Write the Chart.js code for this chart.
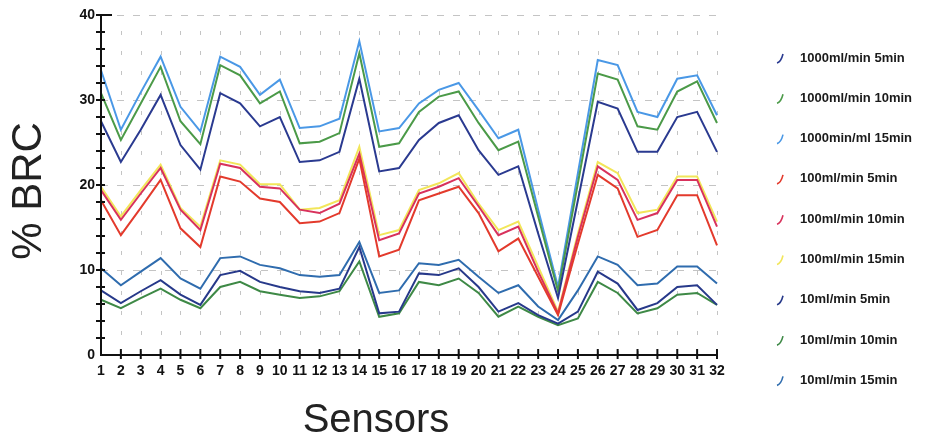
<!DOCTYPE html>
<html>
<head>
<meta charset="utf-8">
<script src="https://cdn.jsdelivr.net/npm/chart.js@4/dist/chart.umd.min.js"></script>
<style>
  html, body { margin: 0; padding: 0; background: #fff; }
  #wrap { width: 931px; height: 446px; position: relative; }
</style>
</head>
<body>
<div id="wrap"><canvas id="brcChart" width="931" height="446"></canvas></div>
<script>
// sensors along the x axis
const sensors = ['1','2','3','4','5','6','7','8','9','10','11','12','13','14','15','16',
                 '17','18','19','20','21','22','23','24','25','26','27','28','29','30','31','32'];

const seriesNames = [
  '1000ml/min 5min', '1000ml/min 10min', '1000min/ml 15min',
  '100ml/min 5min', '100ml/min 10min', '100ml/min 15min',
  '10ml/min 5min', '10ml/min 10min', '10ml/min 15min'
];

const seriesColors = ['#2a3a90', '#4b9a48', '#4a98e6', '#e33a2c', '#d8325c', '#f2e65a', '#27398a', '#3e8946', '#2f6cae'];

// % BRC per sensor
const flow1000_5  = [27.5, 22.7, 26.5, 30.6, 24.7, 21.8, 30.8, 29.6, 26.9, 28.0, 22.7, 22.9, 23.9, 32.5, 21.6, 22.0,
                     25.3, 27.3, 28.2, 24.1, 21.2, 22.2, 14.3, 6.7, 18.2, 29.8, 29.0, 23.9, 23.9, 28.0, 28.6, 23.9];
const flow1000_10 = [30.8, 25.3, 29.6, 33.9, 27.5, 24.8, 34.1, 32.9, 29.6, 31.0, 24.9, 25.1, 26.1, 35.5, 24.5, 24.9,
                     28.6, 30.4, 31.0, 27.3, 24.1, 25.1, 16.3, 7.5, 20.2, 33.1, 32.4, 26.9, 26.5, 31.0, 32.2, 27.3];
const flow1000_15 = [33.5, 26.5, 30.9, 35.1, 29.2, 26.3, 35.1, 33.9, 30.6, 32.4, 26.7, 26.9, 27.8, 36.9, 26.3, 26.7,
                     29.6, 31.2, 32.0, 28.8, 25.5, 26.5, 17.1, 8.0, 21.4, 34.7, 34.1, 28.6, 28.0, 32.5, 32.9, 28.2];
const flow100_5   = [18.2, 14.1, 17.3, 20.6, 14.9, 12.7, 21.0, 20.4, 18.4, 18.0, 15.5, 15.7, 16.7, 23.1, 11.6, 12.4,
                     18.2, 19.0, 19.8, 16.7, 12.2, 13.7, 9.2, 4.7, 13.1, 21.2, 19.6, 13.9, 14.7, 18.8, 18.8, 12.9];
const flow100_10  = [19.4, 15.9, 19.0, 22.0, 17.1, 14.7, 22.5, 22.0, 19.8, 19.6, 17.1, 16.7, 17.8, 23.7, 13.5, 14.3,
                     19.0, 19.8, 20.8, 17.5, 14.1, 15.1, 9.8, 4.9, 13.9, 22.2, 20.6, 15.9, 16.7, 20.6, 20.6, 15.1];
const flow100_15  = [19.8, 16.3, 19.4, 22.4, 17.3, 15.1, 22.9, 22.4, 20.1, 20.1, 17.1, 17.3, 18.2, 24.5, 14.1, 14.7,
                     19.4, 20.2, 21.4, 17.8, 14.7, 15.7, 10.4, 5.1, 14.3, 22.7, 21.4, 16.7, 17.1, 21.0, 21.0, 15.7];
const flow10_5    = [7.6, 6.1, 7.5, 8.8, 7.1, 5.9, 9.4, 9.9, 8.6, 8.0, 7.5, 7.3, 7.8, 12.7, 4.9, 5.1,
                     9.6, 9.4, 10.2, 8.0, 5.1, 6.1, 4.7, 3.7, 5.1, 9.8, 8.4, 5.3, 6.1, 8.0, 8.2, 5.9];
const flow10_10   = [6.5, 5.5, 6.7, 7.8, 6.5, 5.5, 8.0, 8.6, 7.5, 7.1, 6.7, 6.9, 7.5, 11.0, 4.5, 4.9,
                     8.6, 8.2, 9.0, 7.3, 4.5, 5.7, 4.5, 3.5, 4.3, 8.6, 7.3, 4.9, 5.5, 7.1, 7.3, 5.9];
const flow10_15   = [10.2, 8.2, 9.8, 11.4, 9.0, 7.8, 11.4, 11.6, 10.6, 10.2, 9.4, 9.2, 9.4, 13.3, 7.3, 7.6,
                     10.8, 10.6, 11.2, 9.2, 7.3, 8.2, 5.7, 4.1, 7.6, 11.6, 10.6, 8.2, 8.4, 10.4, 10.4, 8.4];

const seriesData = [flow1000_5, flow1000_10, flow1000_15, flow100_5, flow100_10, flow100_15, flow10_5, flow10_10, flow10_15];

const yLabelStep = 10;
const yMinorStep = 2;

// grid, crossed tick marks, axis titles and the side legend
const decor = {
  id: 'decor',
  beforeDatasetsDraw(chart) {
    const { ctx, chartArea: a, scales: { x, y } } = chart;
    ctx.save();
    ctx.strokeStyle = '#c4c4c4';
    ctx.lineWidth = 1;
    ctx.setLineDash([4, 16]);
    sensors.forEach((s, i) => {
      const px = Math.round(x.getPixelForValue(i)) + 0.5;
      ctx.beginPath(); ctx.moveTo(px, a.bottom); ctx.lineTo(px, a.top); ctx.stroke();
    });
    ctx.setLineDash([7, 9]);
    for (let v = yLabelStep; v <= y.max; v += yLabelStep) {
      const py = Math.round(y.getPixelForValue(v)) + 0.5;
      ctx.beginPath(); ctx.moveTo(a.left, py); ctx.lineTo(a.right, py); ctx.stroke();
    }
    ctx.restore();
  },
  afterDatasetsDraw(chart) {
    const { ctx, chartArea: a, scales: { x, y } } = chart;
    const x0 = a.left, y0 = a.bottom;
    ctx.save();
    ctx.strokeStyle = '#111';
    ctx.lineWidth = 2;
    ctx.beginPath();
    ctx.moveTo(x0, a.top); ctx.lineTo(x0, y0); ctx.lineTo(x.getPixelForValue(sensors.length - 1), y0);
    ctx.stroke();
    // y ticks cross the axis
    for (let v = yMinorStep; v <= y.max; v += yMinorStep) {
      const py = y.getPixelForValue(v);
      const w = v === y.max ? 11 : 4;
      ctx.beginPath(); ctx.moveTo(x0 - 5, py); ctx.lineTo(x0 + w, py); ctx.stroke();
    }
    // x ticks cross the axis
    sensors.forEach((s, i) => {
      if (i === 0) return;
      const px = x.getPixelForValue(i);
      ctx.beginPath(); ctx.moveTo(px, y0 - 6); ctx.lineTo(px, y0 + 4); ctx.stroke();
    });

    // axis titles
    ctx.fillStyle = '#222';
    ctx.textAlign = 'center';
    ctx.textBaseline = 'middle';
    ctx.font = '42px "Liberation Sans", Arial, sans-serif';
    ctx.save();
    ctx.translate(29, 191);
    ctx.rotate(-Math.PI / 2);
    ctx.fillText('% BRC', 0, 0);
    ctx.restore();
    ctx.font = '40px "Liberation Sans", Arial, sans-serif';
    ctx.fillText('Sensors', 376, 421);

    // legend
    ctx.textAlign = 'left';
    ctx.font = 'bold 13px "Liberation Sans", Arial, sans-serif';
    chart.data.datasets.forEach((ds, i) => {
      const ly = 58 + i * 40.3;
      ctx.strokeStyle = ds.borderColor;
      ctx.lineWidth = 1.6;
      ctx.beginPath();
      ctx.moveTo(777, ly + 5);
      ctx.quadraticCurveTo(781, ly + 4, 783, ly - 4);
      ctx.stroke();
      ctx.fillStyle = '#1a1a1a';
      ctx.fillText(ds.label, 800, ly);
    });
    ctx.restore();
  }
};

const datasets = seriesNames.map((name, i) => ({
  label: name,
  data: seriesData[i],
  borderColor: seriesColors[i],
  backgroundColor: seriesColors[i],
  borderWidth: 2,
  pointRadius: 0,
  tension: 0,
  fill: false
}));

new Chart(document.getElementById('brcChart'), {
  type: 'line',
  data: { labels: sensors, datasets },
  options: {
    responsive: false,
    animation: false,
    layout: { padding: { left: 0, right: 214, top: 15, bottom: 0 } },
    plugins: { legend: { display: false }, tooltip: { enabled: false } },
    scales: {
      x: {
        offset: false,
        grid: { display: false, drawTicks: false },
        border: { display: false },
        ticks: {
          autoSkip: false, maxRotation: 0, padding: 8, color: '#111',
          font: { family: '"Liberation Sans", Arial, sans-serif', size: 14, weight: 'bold' }
        },
        afterFit: (scale) => { scale.height = 91; }
      },
      y: {
        min: 0, max: 40,
        grid: { display: false, drawTicks: false },
        border: { display: false },
        ticks: {
          autoSkip: false, stepSize: yMinorStep, padding: 6, color: '#111',
          font: { family: '"Liberation Sans", Arial, sans-serif', size: 14, weight: 'bold' },
          callback: (v) => (v % yLabelStep === 0 ? v : '')
        },
        afterFit: (scale) => { scale.width = 101; }
      }
    }
  },
  plugins: [decor]
});
</script>
</body>
</html>
